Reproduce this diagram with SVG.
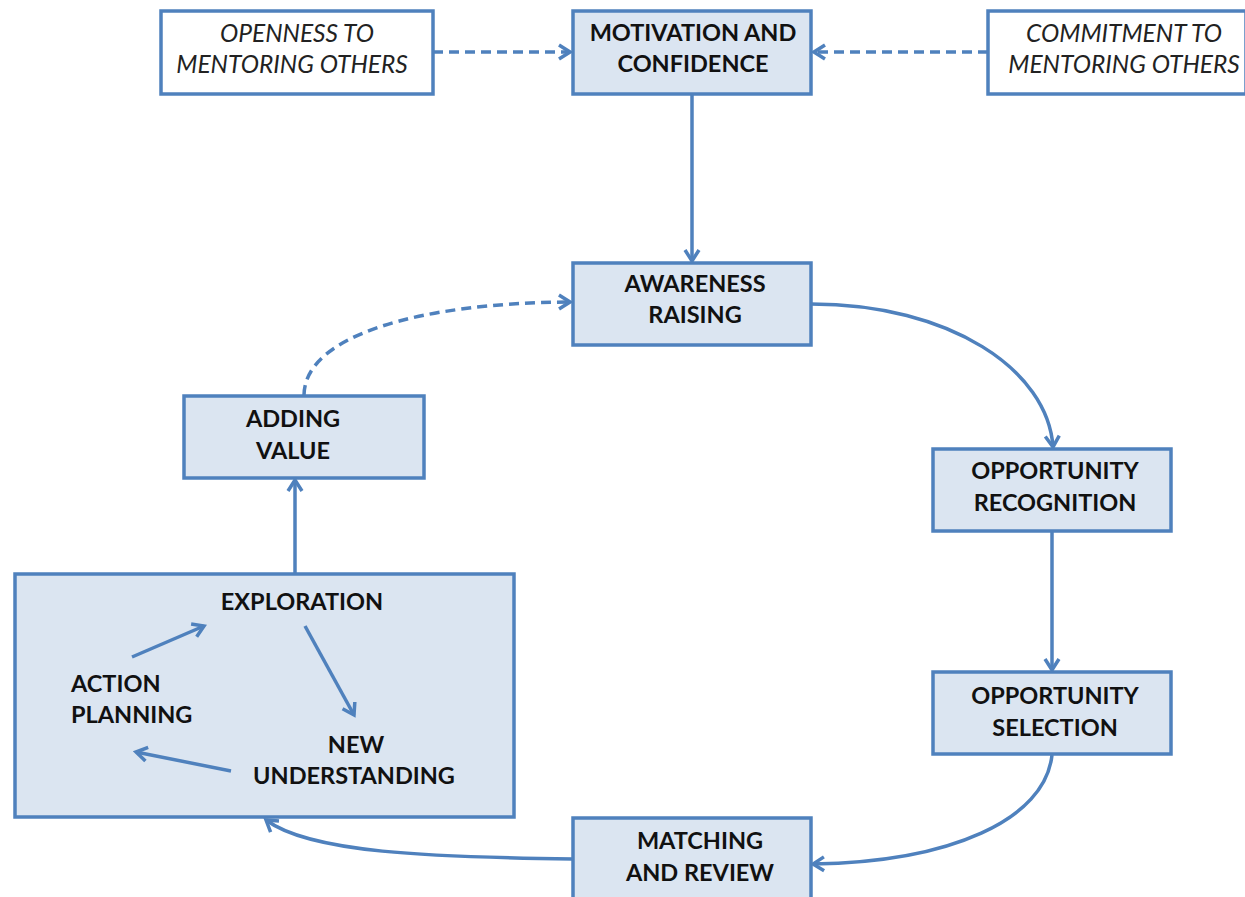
<svg xmlns="http://www.w3.org/2000/svg" width="1245" height="897" viewBox="0 0 1245 897">
  <defs>
    <style>
      .box { fill: #dbe5f1; stroke: #4f81bd; stroke-width: 3.5; }
      .plain { fill: #ffffff; stroke: #4f81bd; stroke-width: 3.5; }
      .lbl { font-family: Lato, "Open Sans", sans-serif; font-weight: bold; font-size: 23.5px; fill: #111; text-anchor: middle; }
      .ital { font-family: Lato, "Open Sans", sans-serif; font-style: italic; font-size: 24.5px; fill: #222; text-anchor: middle; }
      .link { fill: none; stroke: #4f81bd; stroke-width: 3.5; }
      .dash { stroke-dasharray: 10 6; }
    </style>
    <marker id="chev" viewBox="0 0 16 18" refX="13" refY="9" markerWidth="16" markerHeight="18" markerUnits="userSpaceOnUse" orient="auto">
      <path d="M2,2 L13,9 L2,16" fill="none" stroke="#4f81bd" stroke-width="3.5" stroke-linejoin="miter"/>
    </marker>
  </defs>

  <!-- connectors -->
  <g id="connectors">
    <path class="link dash" d="M433,52 L570,52" marker-end="url(#chev)"/>
    <path class="link dash" d="M988,52 L814,52" marker-end="url(#chev)"/>
    <path class="link" d="M692,94 L692,261" marker-end="url(#chev)"/>
    <path class="link" d="M811,304 C950,304 1048,370 1053,447" marker-end="url(#chev)"/>
    <path class="link" d="M1052,531 L1052,670" marker-end="url(#chev)"/>
    <path class="link" d="M1052,755 C1045,820 950,862 813,864" marker-end="url(#chev)"/>
    <path class="link" d="M573,859 C430,857 310,853 266,820" marker-end="url(#chev)"/>
    <path class="link" d="M295,574 L295,480" marker-end="url(#chev)"/>
    <path class="link dash" d="M304,395 C305,335 420,303 570,302" marker-end="url(#chev)"/>
  </g>

  <!-- nodes -->
  <g id="openness">
    <rect class="plain" x="161" y="11" width="272" height="83"/>
    <text class="ital" x="297" y="42">OPENNESS TO</text>
    <text class="ital" x="292" y="73">MENTORING OTHERS</text>
  </g>
  <g id="motivation">
    <rect class="box" x="573" y="11" width="238" height="83"/>
    <text class="lbl" x="693" y="41">MOTIVATION AND</text>
    <text class="lbl" x="693" y="72">CONFIDENCE</text>
  </g>
  <g id="commitment">
    <rect class="plain" x="988" y="11" width="258" height="83"/>
    <text class="ital" x="1124" y="42">COMMITMENT TO</text>
    <text class="ital" x="1124" y="73">MENTORING OTHERS</text>
  </g>
  <g id="awareness">
    <rect class="box" x="573" y="263" width="238" height="82"/>
    <text class="lbl" x="695" y="292">AWARENESS</text>
    <text class="lbl" x="695" y="323">RAISING</text>
  </g>
  <g id="adding-value">
    <rect class="box" x="184" y="396" width="240" height="82"/>
    <text class="lbl" x="293" y="427">ADDING</text>
    <text class="lbl" x="293" y="459">VALUE</text>
  </g>
  <g id="opp-recognition">
    <rect class="box" x="933" y="449" width="238" height="82"/>
    <text class="lbl" x="1055" y="479">OPPORTUNITY</text>
    <text class="lbl" x="1055" y="511">RECOGNITION</text>
  </g>
  <g id="opp-selection">
    <rect class="box" x="933" y="672" width="238" height="82"/>
    <text class="lbl" x="1055" y="704">OPPORTUNITY</text>
    <text class="lbl" x="1055" y="736">SELECTION</text>
  </g>
  <g id="matching">
    <rect class="box" x="573" y="818" width="238" height="82"/>
    <text class="lbl" x="700" y="849">MATCHING</text>
    <text class="lbl" x="700" y="881">AND REVIEW</text>
  </g>
  <g id="exploration-cycle">
    <rect class="box" x="15" y="574" width="499" height="243"/>
    <text class="lbl" x="302" y="610">EXPLORATION</text>
    <text class="lbl" x="71" y="692" style="text-anchor:start">ACTION</text>
    <text class="lbl" x="71" y="723" style="text-anchor:start">PLANNING</text>
    <text class="lbl" x="356" y="753">NEW</text>
    <text class="lbl" x="354" y="784">UNDERSTANDING</text>
    <path class="link" d="M132,657 L204,626" marker-end="url(#chev)"/>
    <path class="link" d="M305,626 L354,715" marker-end="url(#chev)"/>
    <path class="link" d="M231,771 L136,752" marker-end="url(#chev)"/>
  </g>
</svg>
